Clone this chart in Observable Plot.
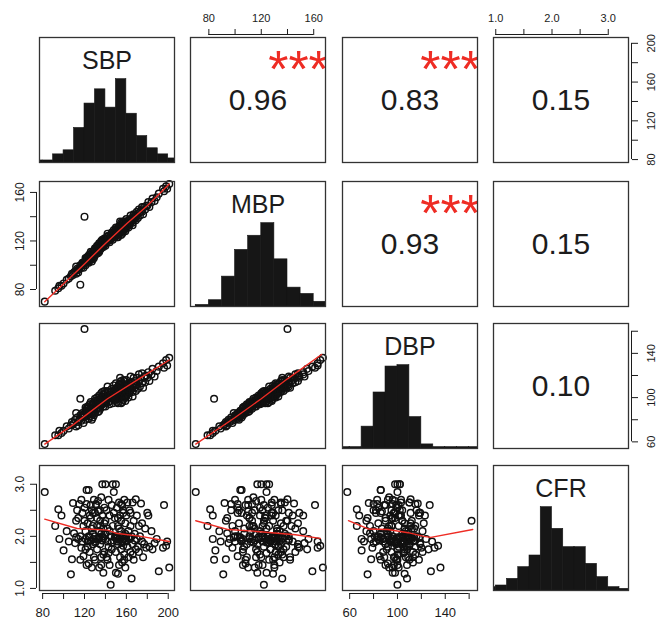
<!DOCTYPE html>
<html><head><meta charset="utf-8">
<script src="https://cdn.jsdelivr.net/npm/d3@7"></script>
<script src="https://cdn.jsdelivr.net/npm/@observablehq/plot@0.6"></script>
<style>
body{margin:0;background:#fff;}
#chart{position:relative;width:663px;height:619px;background:#fff;}
#chart svg{position:absolute;left:0;top:0;}
</style></head><body><div id="chart"></div>
<script>
// ---------- data ----------
const varNames = ["SBP", "MBP", "DBP", "CFR"];

const SBP = [82,92,95,96,98, 100,103,105,107,108,109, 110,111,112,113,114,115,116,116,117,118,118,119,119,120,112,114,117,
 120,121,121,122,122,123,123,124,124,125,125,125,126,126,127,127,127,128,128,128,129,129,129,126,124,122,121,128,123,
 130,130,130,131,131,132,132,132,133,133,134,134,134,135,135,135,136,136,136,137,137,137,138,138,138,139,139,139,130,133,136,131,134,137,138,135,
 140,140,140,141,141,142,142,143,143,144,144,145,145,146,146,147,147,148,148,149,149,140,142,144,146,148,143,
 150,150,150,151,151,152,152,152,153,153,154,154,154,155,155,155,156,156,156,157,157,157,158,158,158,159,159,159,151,153,155,157,159,150,152,154,156,158,153,155,151,
 160,160,161,161,162,162,163,163,164,164,165,165,166,166,167,167,168,168,169,169,160,162,164,166,
 170,170,171,172,172,173,174,175,175,176,177,178,179,
 180,181,182,184,185,187,189,
 191,195,196,198,
 201,199];

const DBP = [58,66,66,70,68, 70,74,72,75,78,76, 77,80,74,82,78,80,99,84,79,86,82,77,85,162,86,75,83,
 84,88,80,86,90,84,92,86,81,88,94,83,90,85,87,93,80,90,95,86,89,92,84,96,92,83,91,82,88,
 92,86,97,94,89,95,100,90,93,98,96,91,102,95,99,90,97,104,93,98,94,101,96,92,103,99,95,106,99,87,100,96,88,105,100,93,
 100,95,104,98,102,99,106,96,101,103,97,100,105,99,108,102,95,104,100,107,98,92,110,94,103,111,105,
 102,98,108,104,100,106,101,110,103,99,107,102,112,104,100,109,106,101,113,105,98,110,107,103,115,106,101,111,96,112,95,116,97,113,95,118,96,100,108,115,109,
 108,102,110,105,107,113,104,109,111,106,108,114,110,105,112,118,109,115,111,106,116,100,119,101,
 112,118,108,115,121,110,117,113,122,109,119,114,120,
 118,123,115,121,126,119,124,
 128,131,127,134,
 136,129];

const MBP = [70,79,81,83,83, 85,88,89,91,93,92, 94,95,93,97,96,97,84,100,98,102,100,98,102,140,99,94,100,
 102,104,100,104,106,103,107,105,102,106,109,104,108,105,107,110,103,109,111,107,109,110,106,111,108,102,106,105,105,
 111,108,113,112,110,113,116,111,113,116,115,112,118,115,117,113,116,120,114,117,115,119,117,115,120,119,117,122,114,110,118,113,111,121,119,114,
 120,118,122,120,121,121,124,120,122,123,121,122,125,122,127,124,121,126,124,128,123,116,126,119,124,129,124,
 126,124,129,127,125,129,126,131,128,126,130,128,133,129,127,132,131,128,134,131,128,133,132,130,136,132,130,135,123,132,125,136,128,131,123,136,126,129,130,135,130,
 134,131,135,133,134,137,133,136,137,135,136,139,138,135,139,142,138,141,140,137,138,131,141,133,
 141,144,139,143,146,141,145,144,148,142,148,146,149,
 149,152,148,152,155,153,156,
 159,163,161,165,
 167,163];

const CFR = [2.85,2.20,2.52,1.95,2.40, 1.73,2.10,1.90,1.27,1.56,2.64, 2.06,1.87,2.30,2.50,1.95,2.62,1.55,2.00,1.78,2.45,1.90,2.20,1.62,2.30,1.98,2.35,2.70,
 2.55,1.95,2.10,2.89,1.45,2.25,1.80,2.89,2.00,1.70,2.40,1.98,2.60,1.92,2.15,1.40,2.50,1.85,2.20,2.05,1.60,2.70,1.95,2.35,1.48,2.62,1.75,2.45,1.90,
 2.00,1.55,2.45,1.90,2.60,2.20,1.75,2.35,1.95,2.68,1.40,2.10,1.98,2.50,1.85,2.30,1.60,2.05,2.75,3.00,1.92,2.40,1.30,2.15,1.97,2.55,1.70,2.25,1.88,2.48,1.45,2.62,1.95,2.00,1.65,2.20,
 3.00,1.95,2.30,1.60,2.50,1.90,2.15,2.70,1.80,2.40,1.45,1.07,2.00,2.60,1.75,3.00,2.20,1.92,2.85,1.98,2.35,2.05,1.55,2.10,1.88,2.45,1.68,
 3.00,1.30,2.00,1.90,2.55,1.28,2.20,1.85,2.65,1.95,1.60,2.40,1.98,2.30,1.75,2.10,1.90,2.60,1.50,2.00,2.45,1.82,1.95,2.70,1.65,2.05,1.40,2.25,1.96,2.15,1.88,2.50,1.92,1.70,2.35,1.97,2.00,1.55,1.45,2.62,1.99,
 1.90,2.40,2.65,1.80,2.10,1.60,2.50,1.95,2.20,1.70,1.19,2.00,2.65,1.85,2.30,1.55,2.05,1.92,2.71,1.75,2.00,1.98,2.45,1.65,
 1.95,2.40,1.80,2.20,1.70,2.00,2.63,1.90,2.25,1.60,1.85,2.15,1.78,
 2.45,2.40,1.80,2.10,1.75,1.87,1.95,
 1.33,1.78,2.60,1.82,
 1.40,1.90];

// scale domains and axis ticks
const sbpDomain = [77, 206], mbpDomain = [66, 169], dbpDomain = [54, 167], cfrDomain = [0.96, 3.36];
const sbpTicks = [80, 100, 120, 140, 160, 180, 200], sbpTickLabels = [80, 120, 160, 200];
const mbpTicks = [80, 100, 120, 140, 160], mbpTickLabels = [80, 120, 160];
const dbpTicks = [60, 80, 100, 120, 140, 160], dbpTickLabels = [60, 100, 140];
const cfrTicks = [1, 1.5, 2, 2.5, 3], cfrTickLabels = [1, 2, 3];

// histogram bins (breaks) and counts
const sbpBreaks = [70, 80, 90, 100, 110, 120, 130, 140, 150, 160, 170, 180, 190, 200, 210];
const sbpCounts = [1, 1, 4, 6, 17, 29, 36, 27, 41, 24, 13, 7, 4, 2];
const mbpBreaks = [70, 80, 90, 100, 110, 120, 130, 140, 150, 160, 170];
const mbpCounts = [1, 4, 19, 36, 45, 53, 30, 12, 8, 3];
const dbpBreaks = [50, 60, 70, 80, 90, 100, 110, 120, 130, 140, 150, 160, 170];
const dbpCounts = [1, 1, 16, 41, 60, 61, 23, 3, 1, 1, 1, 1];
const cfrBreaks = [0.8, 1.0, 1.2, 1.4, 1.6, 1.8, 2.0, 2.2, 2.4, 2.6, 2.8, 3.0, 3.2, 3.4];
const cfrCounts = [2, 3, 7, 14, 21, 50, 37, 26, 26, 16, 8, 2, 1];

// correlations shown in the upper panels
const corrRows = [0, 0, 0, 1, 1, 2];
const corrCols = [1, 2, 3, 2, 3, 3];
const corrText = ["0.96", "0.83", "0.15", "0.93", "0.15", "0.10"];
const corrStars = ["***", "***", "", "***", "", ""];

// smoother (lowess) lines
const smMBPbySBPx = [82, 120, 140, 160, 180, 201], smMBPbySBPy = [70, 101, 118, 134, 149, 167];
const smDBPbySBPx = [82, 110, 142, 174, 201], smDBPbySBPy = [58, 76, 99, 118, 134];
const smDBPbyMBPx = [70, 100, 120, 140, 166], smDBPbyMBPy = [58, 82, 99, 117, 139];
const smCFRbySBPx = [82, 113, 142, 150, 174, 201], smCFRbySBPy = [2.33, 2.15, 2.12, 2.06, 2.0, 1.9];
const smCFRbyMBPx = [70, 95, 114, 146, 165], smCFRbyMBPy = [2.3, 2.13, 2.1, 2.03, 1.96];
const smCFRbyDBPx = [59, 76, 92, 109, 122, 128, 163], smCFRbyDBPy = [2.3, 2.14, 2.13, 2.07, 2.0, 1.98, 2.13];

// ---------- layout & style ----------
const W = 663, H = 619;
const colX = [39, 190, 342, 493], colW = 135;
const rowY = [37, 181, 323, 465], rowH = 125;
const FONT = "'Liberation Sans', Arial, Helvetica, sans-serif";
const INK = "#1c1c1c", FRAME = "#333", RED = "#ee2c24";
const OFF = 3, TICK = 6;

const vals = [SBP, MBP, DBP, CFR];
const doms = [sbpDomain, mbpDomain, dbpDomain, cfrDomain];
const ticksAll = [sbpTicks, mbpTicks, dbpTicks, cfrTicks];
const ticksLab = [sbpTickLabels, mbpTickLabels, dbpTickLabels, cfrTickLabels];
const fmts = [d3.format("d"), d3.format("d"), d3.format("d"), d3.format(".1f")];
const breaks = [sbpBreaks, mbpBreaks, dbpBreaks, cfrBreaks];
const counts = [sbpCounts, mbpCounts, dbpCounts, cfrCounts];
const smooth = {
  "1-0": [smMBPbySBPx, smMBPbySBPy],
  "2-0": [smDBPbySBPx, smDBPbySBPy],
  "2-1": [smDBPbyMBPx, smDBPbyMBPy],
  "3-0": [smCFRbySBPx, smCFRbySBPy],
  "3-1": [smCFRbyMBPx, smCFRbyMBPy],
  "3-2": [smCFRbyDBPx, smCFRbyDBPy]
};
const idx = d3.range(SBP.length);
const frac = (dom, f) => dom[0] + f * (dom[1] - dom[0]);

function axisMarks(side, v, xDom, yDom) {
  const t = ticksAll[v], L = ticksLab[v], f = fmts[v];
  const lo = d3.min(t), hi = d3.max(t);
  if (side === "top") return [
    Plot.ruleY([yDom[1]], {x1: lo, x2: hi, dy: -OFF, stroke: INK}),
    Plot.axisX(t, {anchor: "top", tickSize: TICK, dy: -OFF, fill: "none", stroke: INK}),
    Plot.text(L, {x: d => d, frameAnchor: "top", lineAnchor: "middle", dy: -19, text: f, fontSize: 11, fill: INK})
  ];
  if (side === "bottom") return [
    Plot.ruleY([yDom[0]], {x1: lo, x2: hi, dy: OFF, stroke: INK}),
    Plot.axisX(t, {anchor: "bottom", tickSize: TICK, dy: OFF, fill: "none", stroke: INK}),
    Plot.text(L, {x: d => d, frameAnchor: "bottom", lineAnchor: "middle", dy: 22, text: f, fontSize: 13, fill: INK})
  ];
  if (side === "left") return [
    Plot.ruleX([xDom[0]], {y1: lo, y2: hi, dx: -OFF, stroke: INK}),
    Plot.axisY(t, {anchor: "left", tickSize: TICK, dx: -OFF, fill: "none", stroke: INK}),
    Plot.text(L, {y: d => d, frameAnchor: "left", rotate: -90, textAnchor: "middle", lineAnchor: "middle", dx: -19, text: f, fontSize: 12, fill: INK})
  ];
  return [
    Plot.ruleX([xDom[1]], {y1: lo, y2: hi, dx: OFF, stroke: INK}),
    Plot.axisY(t, {anchor: "right", tickSize: TICK, dx: OFF, fill: "none", stroke: INK}),
    Plot.text(L, {y: d => d, frameAnchor: "right", rotate: -90, textAnchor: "middle", lineAnchor: "middle", dx: 23, text: f, fontSize: 11, fill: INK})
  ];
}

const container = document.getElementById("chart");
for (let i = 0; i < 4; i++) {
  for (let j = 0; j < 4; j++) {
    const marks = [];
    const xDom = doms[j];
    let yDom = doms[i];
    if (i === j) {
      yDom = [0, d3.max(counts[i]) * 1.5];
      const bins = counts[i].map((c, k) => ({x1: breaks[i][k], x2: breaks[i][k + 1], c}));
      marks.push(Plot.rect(bins, {x1: "x1", x2: "x2", y1: 0, y2: "c", fill: "#161616", stroke: "#161616", strokeWidth: 0.6, clip: "frame"}));
      marks.push(Plot.text([varNames[i]], {x: [frac(xDom, 0.5)], y: [frac(yDom, 0.81)], fontSize: 25, fill: INK, lineAnchor: "middle"}));
    } else if (i > j) {
      marks.push(Plot.dot(idx, {x: k => vals[j][k], y: k => vals[i][k], r: 3.3, stroke: "#111", strokeWidth: 1.45, fill: "none"}));
      const s = smooth[`${i}-${j}`];
      if (s) marks.push(Plot.line(d3.range(s[0].length), {x: k => s[0][k], y: k => s[1][k], stroke: RED, strokeWidth: 1.4, clip: "frame"}));
    } else {
      const c = corrRows.findIndex((r, k) => r === i && corrCols[k] === j);
      marks.push(Plot.text([corrText[c]], {x: [frac(xDom, 0.5)], y: [frac(yDom, 0.5)], fontSize: 30, fill: INK, lineAnchor: "middle"}));
      if (corrStars[c]) marks.push(Plot.text([corrStars[c]], {x: [frac(xDom, 0.8)], y: [frac(yDom, 0.8)], fontSize: 52, fill: RED, lineAnchor: "middle", dy: 8, clip: "frame"}));
    }
    if (i === 0 && j % 2 === 1) marks.push(...axisMarks("top", j, xDom, yDom));
    if (i === 3 && j % 2 === 0) marks.push(...axisMarks("bottom", j, xDom, yDom));
    if (j === 0 && i % 2 === 1) marks.push(...axisMarks("left", i, xDom, yDom));
    if (j === 3 && i % 2 === 0) marks.push(...axisMarks("right", i, xDom, yDom));
    marks.push(Plot.frame({stroke: FRAME, strokeWidth: 1.3}));
    const svg = Plot.plot({
      width: W, height: H,
      marginLeft: colX[j], marginRight: W - colX[j] - colW,
      marginTop: rowY[i], marginBottom: H - rowY[i] - rowH,
      x: {domain: xDom, axis: null},
      y: {domain: yDom, axis: null},
      style: {background: "transparent", fontFamily: FONT, overflow: "visible"},
      marks
    });
    container.appendChild(svg);
  }
}
</script>
</body></html>
